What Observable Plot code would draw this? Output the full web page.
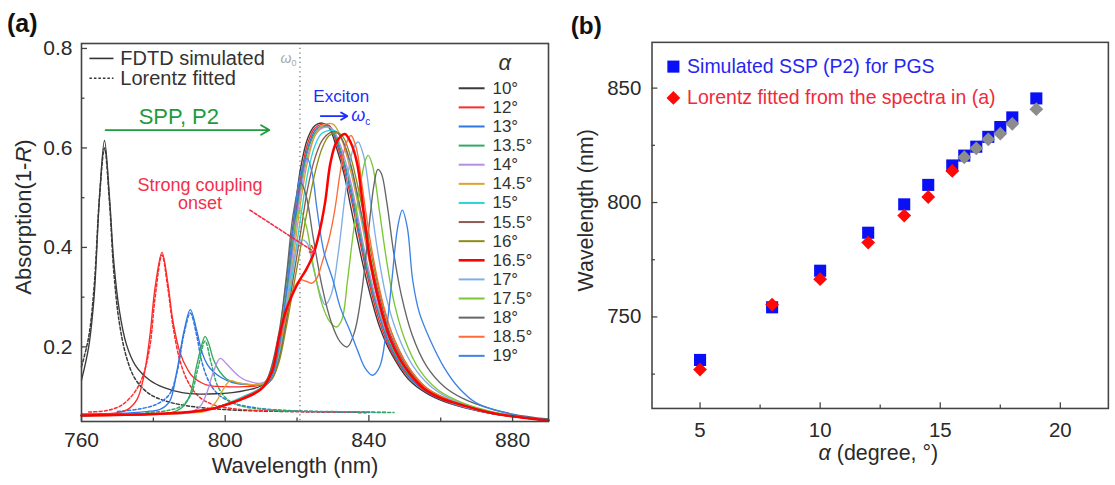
<!DOCTYPE html>
<html><head><meta charset="utf-8">
<script src="https://cdn.jsdelivr.net/npm/d3@7"></script>
<script src="https://cdn.jsdelivr.net/npm/@observablehq/plot@0.6"></script>
<style>
html,body{margin:0;padding:0;background:#fff;overflow:hidden;}
#wrap{position:relative;width:1115px;height:485px;overflow:hidden;}
#pa{position:absolute;left:0;top:0;}
#pb{position:absolute;left:560px;top:0;}
</style></head><body><div id="wrap"><div id="pa"></div><div id="pb"></div></div>
<script>
const FONT = "'Liberation Sans', Arial, Helvetica, sans-serif";

// ---------- Panel (a) data ----------
const angles = ["10°","12°","13°","13.5°","14°","14.5°","15°","15.5°","16°","16.5°","17°","17.5°","18°","18.5°","19°"];
const colors = ["#3a3a3a","#ff2a2a","#2f78e4","#35a862","#b58ee8","#dca232","#2fd3d6","#8c5a52","#8c8c18","#ff0000","#80afe6","#7cc633","#666666","#ff6a36","#3d83e6"];

const s10 = [[760,0.133],[762,0.2],[763.5,0.3],[765,0.5],[766.4,0.615],[767.8,0.5],[769,0.37],[770.5,0.275],[772.5,0.205],[775,0.163],[779,0.133],[783,0.118],[788,0.108],[793,0.105],[798,0.106],[802,0.108],[806,0.113],[810,0.122],[813,0.15],[815,0.22],[817,0.33],[819,0.45],[821,0.56],[823,0.62],[825,0.645],[827,0.65],[829,0.64],[831,0.6],[833,0.55],[835,0.48],[837,0.41],[839.5,0.33],[843,0.24],[846,0.19],[851,0.135],[856,0.107],[861,0.09],[867,0.077],[875,0.065],[890,0.052]];
const s12 = [[760,0.064],[765,0.065],[770,0.068],[773,0.075],[775.5,0.095],[777.3,0.139],[779,0.22],[780.5,0.32],[782.4,0.39],[784,0.33],[785.5,0.25],[787.5,0.187],[789.5,0.155],[791,0.14],[795,0.123],[800,0.12],[805,0.12],[810,0.124],[813,0.145],[815,0.2],[817,0.31],[819,0.43],[821,0.54],[823,0.61],[825,0.64],[827,0.648],[829,0.645],[831,0.61],[833,0.56],[835,0.5],[837,0.43],[839.5,0.345],[843,0.25],[846,0.195],[851,0.14],[856,0.11],[861,0.092],[867,0.078],[875,0.065],[890,0.052]];
const s13 = [[760,0.065],[770,0.066],[778,0.07],[782,0.075],[784.5,0.09],[786.6,0.153],[788.5,0.23],[790.3,0.275],[792,0.235],[793.5,0.19],[795,0.165],[796.7,0.15],[799,0.138],[802,0.128],[806,0.124],[810,0.124],[813,0.145],[815,0.2],[817,0.3],[819,0.42],[821,0.53],[823,0.6],[825,0.635],[827,0.645],[829,0.643],[831,0.615],[833,0.57],[835,0.51],[837,0.44],[839.5,0.355],[843,0.26],[846,0.2],[851,0.142],[856,0.11],[861,0.092],[867,0.078],[875,0.065],[890,0.052]];
const s135 = [[760,0.062],[775,0.064],[785,0.068],[788,0.078],[790,0.1],[792.2,0.167],[793.5,0.205],[794.4,0.221],[795.5,0.205],[796.7,0.175],[798.5,0.15],[800.5,0.135],[803,0.128],[806,0.125],[810,0.124],[813,0.145],[815,0.195],[817,0.29],[819,0.41],[821,0.52],[823,0.595],[825,0.63],[827,0.642],[829,0.642],[831,0.62],[833,0.575],[835,0.52],[837,0.45],[839.5,0.36],[843,0.265],[846,0.205],[851,0.145],[856,0.112],[861,0.093],[867,0.079],[875,0.066],[890,0.052]];
const s14 = [[760,0.062],[780,0.064],[790,0.068],[793,0.08],[795,0.11],[796.5,0.145],[798.6,0.177],[800.5,0.165],[802.2,0.152],[804,0.14],[806,0.132],[810,0.127],[813,0.14],[815,0.19],[817,0.28],[819,0.4],[821,0.51],[823,0.585],[825,0.625],[827,0.64],[829.5,0.64],[831,0.625],[833,0.585],[835,0.53],[837,0.46],[839.5,0.37],[843,0.27],[846,0.21],[851,0.148],[856,0.113],[861,0.094],[867,0.079],[875,0.066],[890,0.052]];
const s145 = [[760,0.062],[780,0.064],[790,0.067],[795,0.072],[797.5,0.09],[799.5,0.115],[801.4,0.132],[803.5,0.128],[806,0.125],[810,0.125],[813,0.14],[815,0.19],[817,0.27],[819,0.38],[821,0.49],[823,0.575],[825,0.625],[827,0.645],[830,0.648],[832,0.625],[834,0.58],[836,0.52],[838,0.45],[840,0.375],[843,0.28],[846,0.215],[851,0.15],[856,0.114],[861,0.095],[867,0.08],[875,0.066],[890,0.052]];
const s15 = [[760,0.062],[780,0.065],[790,0.069],[796,0.075],[800,0.085],[805,0.1],[810,0.118],[813,0.14],[815,0.18],[817,0.26],[819,0.36],[821,0.46],[823,0.55],[825,0.605],[827,0.63],[830.5,0.635],[832,0.625],[834,0.59],[836,0.53],[838,0.46],[840,0.385],[843,0.29],[846,0.22],[851,0.153],[856,0.115],[861,0.096],[867,0.08],[875,0.066],[890,0.052]];
const s155 = [[760,0.062],[780,0.065],[790,0.069],[796,0.075],[800,0.084],[805,0.098],[810,0.117],[813,0.135],[815,0.175],[817,0.25],[819,0.34],[821,0.43],[823,0.52],[825,0.58],[827,0.615],[829,0.63],[831,0.632],[833,0.61],[835,0.565],[837,0.5],[839,0.43],[841,0.36],[843,0.3],[846,0.225],[851,0.157],[856,0.117],[861,0.097],[867,0.081],[875,0.066],[890,0.052]];
const s16 = [[760,0.062],[780,0.065],[790,0.069],[796,0.075],[800,0.083],[805,0.097],[810,0.116],[813,0.135],[815,0.17],[817,0.24],[819,0.32],[821,0.4],[823,0.48],[825,0.55],[827,0.6],[829,0.625],[831.5,0.63],[833,0.62],[835,0.58],[837,0.52],[839,0.45],[841,0.375],[843,0.31],[846,0.235],[851,0.16],[856,0.118],[861,0.098],[867,0.081],[875,0.066],[890,0.052]];
const s165 = [[760,0.062],[780,0.065],[790,0.069],[796,0.075],[800,0.083],[805,0.096],[810,0.115],[813,0.15],[815,0.22],[817,0.275],[819,0.31],[820.8,0.335],[822.5,0.355],[824.5,0.385],[826.2,0.43],[827.8,0.49],[829.3,0.57],[831,0.612],[833.3,0.628],[835,0.61],[836.7,0.57],[838.4,0.48],[840.3,0.375],[843,0.285],[846,0.215],[850,0.16],[855,0.118],[860,0.097],[867,0.081],[875,0.066],[890,0.052]];
const s17 = [[760,0.062],[780,0.065],[790,0.069],[796,0.075],[800,0.084],[805,0.097],[810,0.117],[813,0.14],[815,0.2],[817,0.29],[819,0.37],[821,0.415],[822.7,0.41],[824.5,0.36],[826.5,0.305],[827.8,0.285],[829.5,0.305],[831.5,0.39],[833.5,0.51],[835.5,0.595],[837,0.612],[838.5,0.585],[840.5,0.49],[842.5,0.39],[845,0.295],[848,0.225],[852,0.165],[857,0.122],[862,0.098],[867,0.084],[875,0.068],[890,0.053]];
const s175 = [[760,0.062],[780,0.065],[790,0.069],[796,0.075],[800,0.084],[805,0.097],[810,0.117],[812,0.14],[815,0.22],[817,0.32],[819,0.43],[820.8,0.475],[822.5,0.445],[824.5,0.365],[827,0.285],[829,0.252],[831,0.24],[832.5,0.255],[834,0.33],[835.5,0.42],[837.5,0.52],[839,0.575],[839.8,0.585],[841,0.565],[843,0.47],[845,0.37],[847,0.29],[850,0.215],[854,0.155],[859,0.115],[864,0.094],[870,0.078],[878,0.064],[890,0.053]];
const s18 = [[760,0.062],[780,0.065],[790,0.069],[796,0.075],[800,0.084],[805,0.097],[810,0.117],[812,0.14],[815,0.23],[817,0.34],[819,0.47],[821,0.53],[822.5,0.505],[824.5,0.42],[827,0.32],[829.5,0.25],[832,0.21],[834,0.2],[836,0.23],[838,0.31],[840,0.44],[841.5,0.53],[842.5,0.557],[843.5,0.548],[845,0.49],[847,0.385],[849,0.305],[852,0.225],[856,0.162],[861,0.12],[866,0.097],[872,0.08],[880,0.065],[890,0.055]];
const s185 = [[760,0.062],[780,0.065],[790,0.069],[796,0.075],[800,0.084],[805,0.097],[810,0.117],[813,0.15],[815,0.2],[817,0.265],[819,0.315],[820.8,0.335],[822.5,0.332],[824,0.328],[825.5,0.338],[827,0.37],[829,0.42],[830.5,0.475],[832,0.55],[833.5,0.605],[835,0.625],[836.5,0.6],[838,0.53],[840,0.43],[842,0.35],[844,0.285],[847,0.215],[851,0.16],[856,0.118],[861,0.097],[867,0.081],[875,0.066],[890,0.052]];
const s19 = [[760,0.062],[780,0.065],[790,0.069],[796,0.075],[800,0.084],[805,0.096],[810,0.115],[813,0.14],[815,0.2],[817,0.31],[819.4,0.47],[821,0.55],[822.8,0.579],[824.2,0.55],[825.5,0.48],[827.5,0.39],[830,0.334],[832,0.28],[834.7,0.233],[837,0.19],[839,0.157],[841,0.143],[843,0.16],[844.8,0.23],[846.4,0.334],[848,0.44],[849.3,0.475],[850.7,0.44],[852.2,0.334],[854,0.27],[857,0.215],[861,0.158],[865,0.118],[870,0.087],[880,0.064],[890,0.053]];
const solidSeries = [s10,s12,s13,s135,s14,s145,s15,s155,s16,s165,s17,s175,s18,s185,s19];

const dashedAngles = ["10°","12°","13°","13.5°"];
const d10 = [[760,0.16],[762,0.22],[763.5,0.32],[765,0.5],[766.4,0.6],[767.8,0.49],[769,0.35],[770.5,0.25],[772.5,0.18],[775,0.135],[779,0.105],[785,0.088],[792,0.079],[800,0.074],[810,0.071],[820,0.07],[830,0.069],[840,0.068]];
const d12 = [[762,0.069],[767,0.072],[771,0.082],[774.5,0.106],[777,0.14],[779,0.2],[780.5,0.3],[782.4,0.385],[784,0.32],[785.5,0.24],[787.5,0.17],[790,0.125],[793,0.098],[797,0.083],[803,0.075],[810,0.072],[820,0.07],[830,0.069],[840,0.068]];
const d13 = [[770,0.07],[776,0.075],[781,0.085],[784.5,0.105],[786.6,0.15],[788.5,0.225],[790.3,0.268],[792,0.225],[793.5,0.17],[795.5,0.13],[798,0.105],[802,0.088],[808,0.078],[815,0.073],[825,0.07],[835,0.069],[845,0.068]];
const d135 = [[778,0.068],[784,0.072],[788,0.082],[790.5,0.105],[792.5,0.16],[794.4,0.212],[796,0.17],[798,0.12],[800.5,0.095],[804,0.082],[810,0.075],[820,0.071],[830,0.07],[840,0.069],[847,0.068]];
const dashedSeries = [d10,d12,d13,d135];

const xTicksA = [760,800,840,880];
const xMinorA = [780,820,860];
const yTicksA = [0.2,0.4,0.6,0.8];
const yMinorA = [0.3,0.5,0.7];
const omega0 = 820.8;

// ---------- Panel (b) data ----------
const alphaSim = [5,8,10,12,13.5,14.5,15.5,16,16.5,17,17.5,18,19];
const lamSim   = [731.2,754.2,770.2,786.8,799.2,807.7,816.2,820.5,824.4,828.7,833.0,837.2,845.5];
const alphaRed = [5,8,10,12,13.5,14.5,15.5];
const lamRed   = [727.0,755.4,766.5,782.5,794.3,802.4,813.8];
const alphaGrey = [16,16.5,17,17.5,18,19];
const lamGrey   = [819.8,823.7,827.6,830.1,834.4,840.8];
const xTicksB = [5,10,15,20];
const xMinorB = [7.5,12.5,17.5];
const yTicksB = [750,800,850];
const yMinorB = [725,775,825];

// ---------- build rows ----------
const solidRows = solidSeries.flatMap((pts,i)=>pts.map(([x,y])=>({a:angles[i],x,y})));
const dashedRows = dashedSeries.flatMap((pts,i)=>pts.map(([x,y])=>({a:dashedAngles[i],x,y})));
const thinRows = solidRows.filter(d=>d.a!=="16.5°");
const thickRows = solidRows.filter(d=>d.a==="16.5°");
const legRows = angles.map((a,i)=>({a, y: 0.720 - i*0.03843}));

const AX = {h:378, w:467};
const pa = Plot.plot({
  width:560, height:485, marginLeft:81, marginRight:12, marginTop:43, marginBottom:64,
  style:{fontFamily:FONT, fontSize:"21px", color:"#2a2a2a", background:"transparent", overflow:"visible"},
  x:{domain:[760,890], ticks:xTicksA, tickSize:0, tickPadding:11, label:null},
  y:{domain:[0.05,0.81], ticks:yTicksA, tickSize:0, tickPadding:9, label:null, tickFormat:d3.format(".1f")},
  color:{domain:angles, range:colors},
  marks:[
    Plot.ruleX([omega0], {stroke:"#8a8a8a", strokeDasharray:"1.3,3.4", strokeWidth:1.5}),
    Plot.line(dashedRows, {x:"x", y:"y", z:"a", stroke:"a", strokeWidth:1.5, strokeDasharray:"3,2.2", curve:"catmull-rom"}),
    Plot.line(thinRows, {x:"x", y:"y", z:"a", stroke:"a", strokeWidth:1.35, curve:"catmull-rom"}),
    Plot.line(thickRows, {x:"x", y:"y", z:"a", stroke:"a", strokeWidth:2.5, curve:"catmull-rom"}),
    Plot.tickX(xTicksA, {x:d=>d, stroke:"#444", strokeWidth:1.3, insetTop:AX.h-6}),
    Plot.tickX(xMinorA, {x:d=>d, stroke:"#444", strokeWidth:1.3, insetTop:AX.h-3.5}),
    Plot.tickY(yTicksA, {y:d=>d, stroke:"#444", strokeWidth:1.3, insetRight:AX.w-6}),
    Plot.tickY(yMinorA, {y:d=>d, stroke:"#444", strokeWidth:1.3, insetRight:AX.w-3.5}),
    Plot.frame({stroke:"#444", strokeWidth:1.6}),
    // top-left line-style legend
    Plot.link([0], {x1:762.2, x2:768.9, y1:0.780, y2:0.780, stroke:"#333", strokeWidth:1.6}),
    Plot.link([0], {x1:762.2, x2:768.9, y1:0.740, y2:0.740, stroke:"#333", strokeWidth:1.6, strokeDasharray:"2.5,2"}),
    Plot.text(["FDTD simulated"], {x:770.8, y:0.780, text:d=>d, textAnchor:"start", fontSize:20, fill:"#333"}),
    Plot.text(["Lorentz fitted"], {x:770.8, y:0.740, text:d=>d, textAnchor:"start", fontSize:20, fill:"#333"}),
    // SPP arrow
    Plot.arrow([0], {x1:766.7, y1:0.636, x2:812.3, y2:0.636, stroke:"#1e9b3c", strokeWidth:1.8, headLength:8}),
    Plot.text(["SPP, P2"], {x:787.1, y:0.663, text:d=>d, fontSize:22, fill:"#1e9b3c"}),
    // Exciton
    Plot.text(["Exciton"], {x:832.3, y:0.704, text:d=>d, fontSize:17, fill:"#1b2dff"}),
    Plot.arrow([0], {x1:826.6, y1:0.664, x2:834.0, y2:0.664, stroke:"#1b2dff", strokeWidth:1.8, headLength:6}),
    // strong coupling
    Plot.text(["Strong coupling"], {x:793, y:0.525, text:d=>d, fontSize:18, fill:"#f2304a"}),
    Plot.text(["onset"], {x:793, y:0.489, text:d=>d, fontSize:18, fill:"#f2304a"}),
    Plot.arrow([0], {x1:806.9, y1:0.475, x2:825, y2:0.39, stroke:"#f2304a", strokeWidth:1.6, strokeDasharray:"3,2", headLength:7}),
    // alpha legend
    Plot.text(["α"], {x:877.8, y:0.770, text:d=>d, fontSize:22, fontStyle:"italic", fill:"#333"}),
    Plot.link(legRows, {x1:865, x2:872.2, y1:"y", y2:"y", stroke:"a", strokeWidth:d=>d.a==="16.5°"?2.6:2}),
    Plot.text(legRows, {x:874.4, y:"y", text:"a", textAnchor:"start", fontSize:17, fill:"#333"})
  ]
});
document.getElementById("pa").appendChild(pa);

// extra texts with sub-scripts / rotated titles in panel (a)
{
  const X = pa.scale("x"), Y = pa.scale("y");
  const svg = d3.select(pa);
  svg.append("text").attr("x",7).attr("y",32).attr("text-anchor","start").attr("font-family",FONT).attr("font-size",25).attr("font-weight","bold").attr("fill","#111").text("(a)");
  const w0 = svg.append("text").attr("x",X.apply(omega0)-3).attr("y",63).attr("text-anchor","end").attr("font-family",FONT).attr("font-size",14).attr("fill","#a8a8a8");
  w0.append("tspan").attr("font-style","italic").text("ω");
  w0.append("tspan").attr("font-size",9).attr("dy",3).text("0");
  const wc = svg.append("text").attr("x",X.apply(835.2)).attr("y",Y.apply(0.664)+5).attr("text-anchor","start").attr("font-family",FONT).attr("font-size",18).attr("fill","#1b2dff");
  wc.append("tspan").attr("font-style","italic").text("ω");
  wc.append("tspan").attr("font-size",10).attr("dy",4).text("c");
  svg.append("text").attr("x",295).attr("y",473).attr("text-anchor","middle").attr("font-family",FONT).attr("font-size",22).attr("fill","#2a2a2a").text("Wavelength (nm)");
  const yl = svg.append("text").attr("transform","translate(31,217) rotate(-90)").attr("text-anchor","middle").attr("font-family",FONT).attr("font-size",22).attr("fill","#2a2a2a");
  yl.append("tspan").text("Absorption(1-");
  yl.append("tspan").attr("font-style","italic").text("R");
  yl.append("tspan").text(")");
}

// ---------- Panel (b) ----------
const simRows = alphaSim.map((a,i)=>({a, w:lamSim[i]}));
const redRows = alphaRed.map((a,i)=>({a, w:lamRed[i]}));
const greyRows = alphaGrey.map((a,i)=>({a, w:lamGrey[i]}));
const BX = {h:376, w:468.7};
const pb = Plot.plot({
  width:570, height:485, marginLeft:94, marginRight:7.3, marginTop:43, marginBottom:66,
  style:{fontFamily:FONT, fontSize:"21px", color:"#2a2a2a", background:"transparent", overflow:"visible"},
  x:{domain:[3,22], ticks:xTicksB, tickSize:0, tickPadding:14, label:null},
  y:{domain:[710,870], ticks:yTicksB, tickSize:0, tickPadding:11, label:null},
  marks:[
    Plot.tickX(xTicksB, {x:d=>d, stroke:"#444", strokeWidth:1.3, insetTop:BX.h-6}),
    Plot.tickX(xMinorB, {x:d=>d, stroke:"#444", strokeWidth:1.3, insetTop:BX.h-3.5}),
    Plot.tickY(yTicksB, {y:d=>d, stroke:"#444", strokeWidth:1.3, insetRight:BX.w-6}),
    Plot.tickY(yMinorB, {y:d=>d, stroke:"#444", strokeWidth:1.3, insetRight:BX.w-3.5}),
    Plot.frame({stroke:"#444", strokeWidth:1.6}),
    Plot.dot(simRows, {x:"a", y:"w", symbol:"square", r:7, fill:"#0a10f5", stroke:"none"}),
    Plot.dot(redRows, {x:"a", y:"w", symbol:"diamond2", r:6.4, fill:"#ff0808", stroke:"none"}),
    Plot.dot(greyRows, {x:"a", y:"w", symbol:"diamond2", r:6.4, fill:"#8c8c8c", stroke:"none"}),
    // legend
    Plot.dot([0], {x:3.89, y:859.4, symbol:"square", r:7, fill:"#0a10f5"}),
    Plot.dot([0], {x:3.89, y:845.7, symbol:"diamond2", r:6.4, fill:"#ff0808"}),
    Plot.text(["Simulated SSP (P2) for PGS"], {x:4.46, y:859.4, text:d=>d, textAnchor:"start", fontSize:20, fill:"#2626f0"}),
    Plot.text(["Lorentz fitted from the spectra in (a)"], {x:4.46, y:845.7, text:d=>d, textAnchor:"start", fontSize:20, fill:"#f02a3a"})
  ]
});
document.getElementById("pb").appendChild(pb);
{
  const svg = d3.select(pb);
  svg.append("text").attr("x",11).attr("y",35).attr("text-anchor","start").attr("font-family",FONT).attr("font-size",25).attr("font-weight","bold").attr("fill","#111").text("(b)");
  const xl = svg.append("text").attr("x",327).attr("y",472).attr("text-anchor","middle").attr("font-family",FONT).attr("font-size",22).attr("fill","#2a2a2a");
  xl.append("tspan").attr("font-style","italic").text("α");
  xl.append("tspan").text(" (degree, °)");
  svg.append("text").attr("transform","translate(34,216) rotate(-90)").attr("text-anchor","middle").attr("font-family",FONT).attr("font-size",22).attr("fill","#2a2a2a").text("Wavelength (nm)");
}
</script></body></html>
